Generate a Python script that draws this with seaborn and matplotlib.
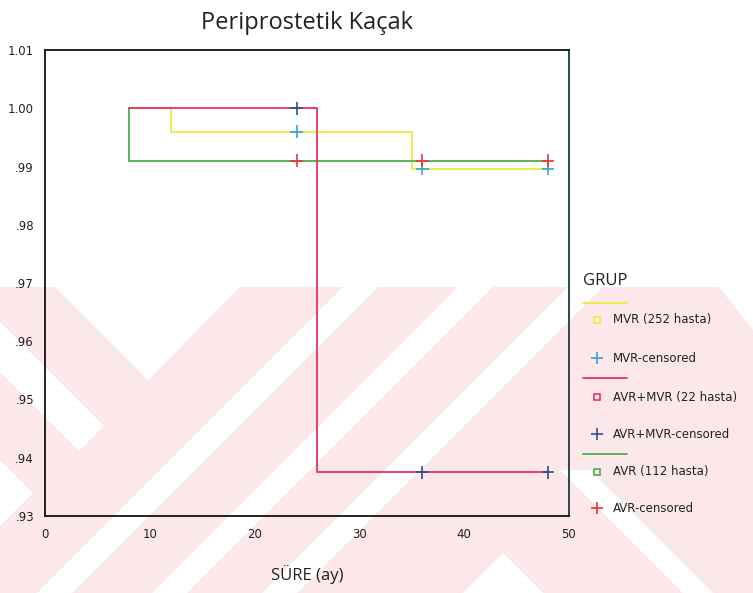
import matplotlib
matplotlib.use("Agg")
import matplotlib.pyplot as plt
from matplotlib import font_manager
from matplotlib.patches import Polygon, Rectangle
from matplotlib.lines import Line2D
import seaborn as sns
import pandas as pd

# ---------------- data ----------------
groups = ["MVR (252 hasta)", "AVR+MVR (22 hasta)", "AVR (112 hasta)"]
censor_labels = ["MVR-censored", "AVR+MVR-censored", "AVR-censored"]

mvr_time = [8, 12, 35, 48]
mvr_surv = [1.0, 0.996, 0.9896, 0.9896]
avrmvr_time = [8, 26, 48]
avrmvr_surv = [1.0, 0.9375, 0.9375]
avr_time = [8, 8, 48]
avr_surv = [1.0, 0.991, 0.991]

mvr_cens_time = [24, 36, 48]
mvr_cens_surv = [0.996, 0.9896, 0.9896]
avrmvr_cens_time = [24, 36, 48]
avrmvr_cens_surv = [1.0, 0.9375, 0.9375]
avr_cens_time = [24, 36, 48]
avr_cens_surv = [0.991, 0.991, 0.991]

x_ticks = [0, 10, 20, 30, 40, 50]
y_ticks = [0.93, 0.94, 0.95, 0.96, 0.97, 0.98, 0.99, 1.00, 1.01]
y_ticklabels = [".93", ".94", ".95", ".96", ".97", ".98", ".99", "1.00", "1.01"]

line_colors = {"MVR (252 hasta)": "#ecec3c", "AVR+MVR (22 hasta)": "#e8306c", "AVR (112 hasta)": "#4cae4c"}
cens_colors = {"MVR-censored": "#3aa2d2", "AVR+MVR-censored": "#2c4f8c", "AVR-censored": "#f03434"}

# ---------------- fonts ----------------
sns.set_theme(style="white")
available = {f.name for f in font_manager.fontManager.ttflist}
narrow = next((f for f in ["Liberation Sans Narrow", "Open Sans", "DejaVu Sans"] if f in available), "DejaVu Sans")
plt.rcParams["font.family"] = ["DejaVu Sans"]

W, H = 753, 593
fig = plt.figure(figsize=(W / 100, H / 100), dpi=100)
fig.patch.set_facecolor("white")

def P(x, y):
    return (x / W, 1 - y / H)

# ---------------- background watermark (decoration) ----------------
pink = "#fce7eb"
fig.add_artist(Rectangle(P(0, 593), 1, (593 - 287) / H, transform=fig.transFigure,
                         facecolor=pink, edgecolor="none", zorder=-10))
white_shapes = [
    [(55, 287), (240, 287), (148, 380)],
    [(0, 322), (104, 426), (79, 451), (0, 372)],
    [(0, 460), (33, 493), (0, 526)],
]
for c in [630, 745, 855]:
    w = 35
    white_shapes.append([(c - 287, 287), (c + w - 287, 287), (c + w - 593, 593), (c - 593, 593)])
white_shapes.append([(463, 593), (503, 553), (543, 593)])
white_shapes.append([(560, 470), (590, 470), (713, 593), (683, 593)])
white_shapes.append([(719, 287), (753, 287), (753, 330)])
for poly in white_shapes:
    fig.add_artist(Polygon([P(x, y) for x, y in poly], closed=True, transform=fig.transFigure,
                           facecolor="white", edgecolor="none", zorder=-9))

# ---------------- axes ----------------
ax = fig.add_axes([45 / W, (593 - 516) / H, (569 - 45) / W, (516 - 50) / H])
ax.set_facecolor("none")

lines_df = pd.concat([
    pd.DataFrame({"t": mvr_time, "s": mvr_surv, "g": groups[0]}),
    pd.DataFrame({"t": avr_time, "s": avr_surv, "g": groups[2]}),
    pd.DataFrame({"t": avrmvr_time, "s": avrmvr_surv, "g": groups[1]}),
])
for i, g in enumerate([groups[0], groups[2], groups[1]]):
    sub = lines_df[lines_df.g == g].reset_index(drop=True)
    sns.lineplot(data=sub, x="t", y="s", ax=ax, color=line_colors[g], lw=1.3,
                 drawstyle="steps-post", sort=False, estimator=None, legend=False, zorder=2 + i)

cens_df = pd.concat([
    pd.DataFrame({"t": mvr_cens_time, "s": mvr_cens_surv, "g": censor_labels[0]}),
    pd.DataFrame({"t": avrmvr_cens_time, "s": avrmvr_cens_surv, "g": censor_labels[1]}),
    pd.DataFrame({"t": avr_cens_time, "s": avr_cens_surv, "g": censor_labels[2]}),
])
sns.scatterplot(data=cens_df, x="t", y="s", hue="g", palette=cens_colors, marker="+",
                s=85, linewidth=1.2, ax=ax, legend=False, zorder=10)

ax.set_xlim(0, 50)
ax.set_ylim(0.93, 1.01)
ax.set_xticks(x_ticks)
ax.set_xticklabels([str(v) for v in x_ticks], fontsize=8.5, color="#222222")
ax.set_yticks(y_ticks)
ax.set_yticklabels(y_ticklabels, fontsize=8.5, color="#222222")
ax.tick_params(axis="both", direction="out", length=3, width=3.5, color="#111111", pad=5)
ax.tick_params(axis="x", pad=6)
for side, sp in ax.spines.items():
    sp.set_visible(True)
    sp.set_color("#111111")
    sp.set_linewidth(1.3)
ax.spines["right"].set_color("#1c3a3a")
ax.set_xlabel("SÜRE (ay)", fontsize=12, family=narrow, color="#222222", labelpad=17)
ax.set_ylabel("")
ax.set_title("Periprostetik Kaçak", fontsize=17, family=narrow, color="#222222", pad=15)

# ---------------- legend (manual) ----------------
fig.text(583 / W, 1 - 281 / H, "GRUP", family=narrow, fontsize=12, color="#222222", va="center", ha="left")
rows = [
    ("line", groups[0], line_colors[groups[0]], 303),
    ("sq", groups[0], line_colors[groups[0]], 320),
    ("plus", censor_labels[0], cens_colors[censor_labels[0]], 358),
    ("line", groups[1], line_colors[groups[1]], 378),
    ("sq", groups[1], line_colors[groups[1]], 397),
    ("plus", censor_labels[1], cens_colors[censor_labels[1]], 434),
    ("line", groups[2], line_colors[groups[2]], 454),
    ("sq", groups[2], line_colors[groups[2]], 472),
    ("plus", censor_labels[2], cens_colors[censor_labels[2]], 508),
]
for kind, label, col, yy in rows:
    if kind == "line":
        fig.add_artist(Line2D([583 / W, 627 / W], [1 - yy / H] * 2, transform=fig.transFigure,
                              color=col, lw=1.3))
    else:
        if kind == "sq":
            fig.add_artist(Line2D([597 / W], [1 - yy / H], transform=fig.transFigure, marker="s",
                                  markersize=5, markerfacecolor="none", markeredgecolor=col,
                                  markeredgewidth=1.2, linestyle="none"))
        else:
            fig.add_artist(Line2D([597 / W], [1 - yy / H], transform=fig.transFigure, marker="+",
                                  markersize=9, markeredgecolor=col, markeredgewidth=1.2,
                                  linestyle="none"))
        fig.text(613 / W, 1 - yy / H, label, fontsize=8.5, color="#222222", va="center", ha="left")

fig.savefig("out.png", dpi=100, facecolor="white")
